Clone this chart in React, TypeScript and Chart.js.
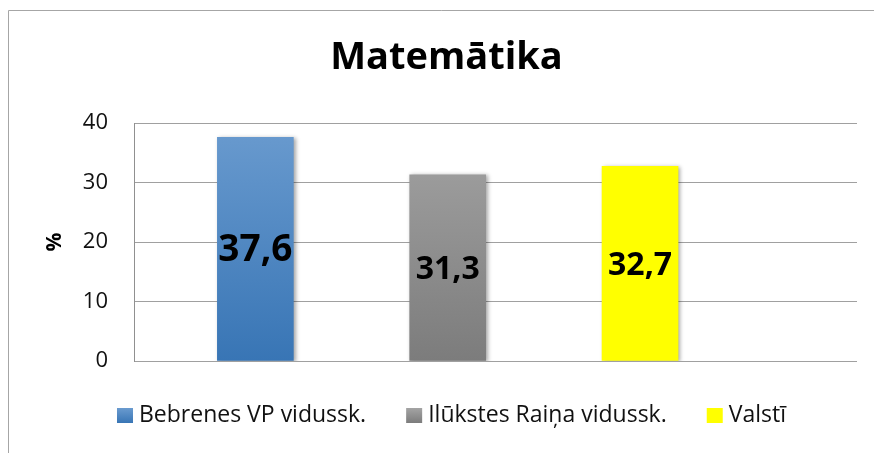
import React, { useEffect, useRef } from "react";
import { Chart, registerables } from "chart.js";

Chart.register(...registerables);

const categories = ["Bebrenes VP vidussk.", "Ilūkstes Raiņa vidussk.", "Valstī"];
const values = [37.6, 31.3, 32.7];
const yMin = 0;
const yMax = 40;
const yStep = 10;
const titleText = "Matemātika";
const yAxisTitle = "%";

const gradTop = ["#6a9bcf", "#a4a4a4", "#ffff00"];
const gradBottom = ["#3875b5", "#7c7c7c", "#ffff00"];
const labelFontSizes = [37, 32, 32];

const FONT = "'Open Sans', 'DejaVu Sans', sans-serif";

const fmt = (v: number) => v.toFixed(1).replace(".", ",");

function makeGrad(ctx: CanvasRenderingContext2D, i: number, top: number, bottom: number) {
  const g = ctx.createLinearGradient(0, top, 0, bottom);
  g.addColorStop(0, gradTop[i]);
  g.addColorStop(1, gradBottom[i]);
  return g;
}

const framePlugin = {
  id: "frame",
  beforeDraw(chart: any) {
    const ctx = chart.ctx as CanvasRenderingContext2D;
    ctx.save();
    ctx.fillStyle = "#ffffff";
    ctx.fillRect(0, 0, chart.width, chart.height);
    ctx.strokeStyle = "#a6a6a6";
    ctx.lineWidth = 1;
    ctx.beginPath();
    ctx.moveTo(8.5, chart.height + 5);
    ctx.lineTo(8.5, 10.5);
    ctx.lineTo(chart.width + 5, 10.5);
    ctx.stroke();
    // title
    ctx.fillStyle = "#000";
    ctx.font = `bold 38px ${FONT}`;
    ctx.textAlign = "center";
    ctx.textBaseline = "alphabetic";
    ctx.fillText(titleText, 446.5, 69);
    ctx.restore();
  },
  beforeDatasetsDraw(chart: any) {
    const ctx = chart.ctx as CanvasRenderingContext2D;
    ctx.save();
    ctx.shadowColor = "rgba(0,0,0,0.35)";
    ctx.shadowBlur = 4;
    ctx.shadowOffsetX = 2;
    ctx.shadowOffsetY = 1;
  },
  afterDatasetsDraw(chart: any) {
    const ctx = chart.ctx as CanvasRenderingContext2D;
    ctx.restore();
    // data labels
    ctx.save();
    ctx.fillStyle = "#000";
    ctx.textAlign = "center";
    ctx.textBaseline = "middle";
    chart.data.datasets.forEach((ds: any, i: number) => {
      const meta = chart.getDatasetMeta(i);
      meta.data.forEach((bar: any, j: number) => {
        const v = ds.data[j].y;
        ctx.font = `bold ${labelFontSizes[i]}px ${FONT}`;
        ctx.fillText(fmt(v), bar.x, (bar.y + bar.base) / 2 + 2);
      });
    });
    ctx.restore();
  },
  afterDraw(chart: any) {
    // legend
    const ctx = chart.ctx as CanvasRenderingContext2D;
    ctx.save();
    ctx.font = `23px ${FONT}`;
    const box = 16;
    const gap = 6;
    const sep = 40;
    const widths = categories.map((c) => box + gap + ctx.measureText(c).width);
    const total = widths.reduce((a, b) => a + b, 0) + sep * (categories.length - 1);
    let x = 451.5 - total / 2;
    const boxTop = 408;
    categories.forEach((c, i) => {
      ctx.fillStyle = makeGrad(ctx, i, boxTop, boxTop + 15);
      ctx.fillRect(x, boxTop, box, 15);
      ctx.fillStyle = "#111";
      ctx.textAlign = "left";
      ctx.textBaseline = "alphabetic";
      ctx.fillText(c, x + box + gap, 422);
      x += widths[i] + sep;
    });
    ctx.restore();
  },
};

export default function App() {
  const ref = useRef<HTMLCanvasElement>(null);
  useEffect(() => {
    if (!ref.current) return;
    const chart = new Chart(ref.current, {
      type: "bar",
      data: {
        datasets: categories.map((label, i) => ({
          label,
          data: [{ x: i, y: values[i] }],
          backgroundColor: (c: any) => {
            const area = c.chart.chartArea;
            if (!area) return gradTop[i];
            return makeGrad(c.chart.ctx, i, area.top, area.bottom);
          },
          borderWidth: 0,
          grouped: false,
          barThickness: 76,
        })),
      } as any,
      options: {
        responsive: false,
        animation: false,
        layout: { padding: { top: 123, bottom: 92, right: 17, left: 0 } },
        plugins: {
          legend: { display: false },
          title: { display: false },
          tooltip: { enabled: false },
        },
        scales: {
          x: {
            type: "linear",
            display: false,
            offset: false,
            min: -0.631,
            max: 3.128,
          },
          y: {
            min: yMin,
            max: yMax,
            afterFit: (s: any) => {
              s.width = 134;
            },
            ticks: {
              stepSize: yStep,
              padding: 26,
              color: "#111",
              font: { family: FONT, size: 22 },
            },
            grid: { color: "#a0a0a0", drawTicks: false, lineWidth: 1 },
            border: { display: true, color: "#909090" },
            title: {
              display: true,
              text: yAxisTitle,
              color: "#000",
              font: { family: FONT, size: 21, weight: "bold" },
              padding: { top: 42, bottom: 0 },
            },
          },
        },
      } as any,
      plugins: [framePlugin],
    });
    return () => chart.destroy();
  }, []);
  return (
    <div style={{ position: "fixed", left: 0, top: 0, width: 874, height: 453 }}>
      <canvas ref={ref} width={874} height={453} style={{ display: "block" }} />
    </div>
  );
}
